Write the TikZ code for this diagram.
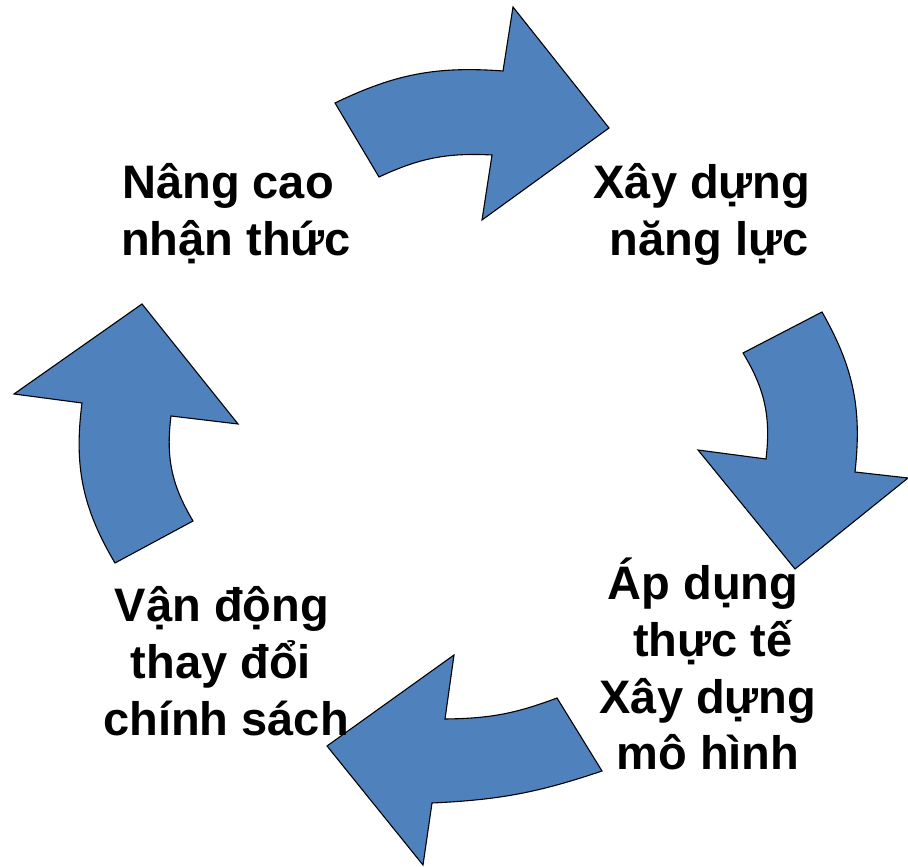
\documentclass[tikz,border=0pt]{standalone}
\usepackage{fontspec}
\setmainfont{Liberation Sans}
\definecolor{arrowblue}{HTML}{4F81BD}
\tikzset{
  cyclearrow/.style={fill=arrowblue, draw=black, line width=1.1pt, line join=miter},
  lab/.style={anchor=base, inner sep=0pt, font=\fontsize{47}{57}\selectfont\bfseries}
}
\begin{document}
\begin{tikzpicture}[x=1pt, y=1pt]
\useasboundingbox (0,0) rectangle (908,867);
% top arrow
\draw[cyclearrow] (335,764) to[bend left=15] (503,796) -- (513,860) -- (609,739) -- (482,647) -- (492,712) to[bend right=14] (379,690) -- cycle;
% right arrow
\draw[cyclearrow] (743,514) -- (822,555) to[bend left=18] (855,395) -- (908,389) -- (795,298) -- (698,417) -- (766,408) to[bend right=19] (743,514) -- cycle;
% bottom arrow
\draw[cyclearrow] (557,169) to[bend left=10] (445,148) -- (454,212) -- (327,121) -- (423,2) -- (432,64) to[bend right=8] (602,96) -- cycle;
% left arrow
\draw[cyclearrow] (193,346) to[bend left=19] (171,451) -- (238,443) -- (142,563) -- (14,473) -- (82,464) to[bend right=19] (115,304) -- cycle;
% labels
\node[lab] (a1) at (228,668) {Nâng cao};
\node[lab] (a2) at (236,611) {nhận thức};
\node[lab] (b1) at (702,668) {Xây dựng};
\node[lab] (b2) at (709,611) {năng lực};
\node[lab] (c1) at (703,267) {Áp dụng};
\node[lab] (c2) at (713,210) {thực tế};
\node[lab] (c3) at (708,153) {Xây dựng};
\node[lab] (c4) at (708,97) {mô hình};
\node[lab] (d1) at (222,245) {Vận động};
\node[lab] (d2) at (221,188) {thay đổi};
\node[lab] (d3) at (226,131) {chính sách};
\end{tikzpicture}
\end{document}
